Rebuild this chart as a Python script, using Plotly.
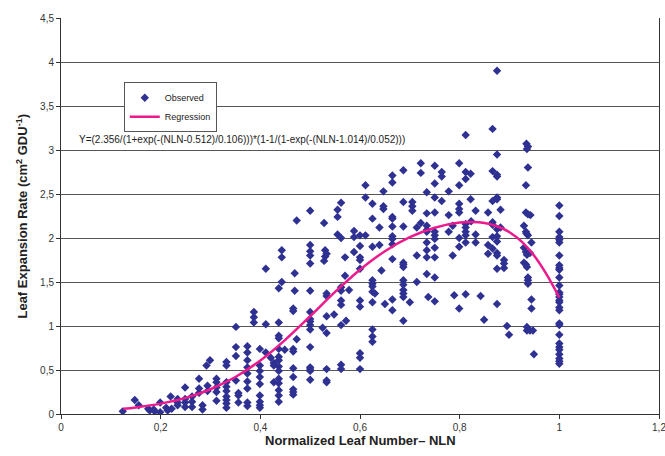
import plotly.graph_objects as go

# ---- Observed points (NLN, leaf expansion rate) ----
obs_nln = [
    0.124, 0.148, 0.156, 0.175, 0.178, 0.186, 0.188, 0.199, 0.199, 0.211,
    0.214, 0.220, 0.222, 0.234, 0.234, 0.234, 0.249, 0.249, 0.249, 0.249,
    0.263, 0.263, 0.263, 0.277, 0.277, 0.277, 0.284, 0.284, 0.292, 0.299,
    0.294, 0.294,
    0.312, 0.312, 0.312, 0.312, 0.312,
    0.332, 0.332, 0.332, 0.332, 0.332, 0.332, 0.332, 0.332, 0.332,
    0.351, 0.351, 0.351, 0.351,
    0.356, 0.356, 0.356,
    0.374, 0.374, 0.374, 0.374, 0.374, 0.374, 0.374, 0.374, 0.374,
    0.387, 0.387, 0.387,
    0.399, 0.399, 0.399, 0.399, 0.399, 0.399, 0.399, 0.399, 0.399,
    0.411, 0.411, 0.411,
    0.421,
    0.427, 0.427, 0.427,
    0.437, 0.437, 0.437, 0.437, 0.437, 0.437, 0.437, 0.437, 0.437, 0.437,
    0.437, 0.437, 0.437, 0.437,
    0.443, 0.443, 0.443,
    0.449,
    0.466, 0.466, 0.466, 0.466, 0.466, 0.466, 0.466, 0.466, 0.466,
    0.469, 0.469,
    0.473, 0.473,
    0.500, 0.500, 0.500, 0.500, 0.500, 0.500, 0.500, 0.500, 0.500, 0.500,
    0.500, 0.500, 0.500, 0.500, 0.500, 0.500,
    0.528, 0.528,
    0.530, 0.530,
    0.533, 0.533, 0.533, 0.533, 0.533, 0.533, 0.533, 0.533,
    0.525,
    0.548,
    0.555, 0.555, 0.555,
    0.562, 0.562, 0.562, 0.562, 0.562, 0.562, 0.562, 0.562, 0.562,
    0.570, 0.570,
    0.572,
    0.578,
    0.588, 0.588, 0.588,
    0.600, 0.600, 0.600, 0.600, 0.600, 0.600, 0.600, 0.600, 0.600, 0.600,
    0.611, 0.611, 0.611,
    0.625, 0.625, 0.625, 0.625, 0.625, 0.625, 0.625, 0.625, 0.625, 0.625,
    0.625,
    0.630,
    0.639, 0.639,
    0.647, 0.647, 0.647,
    0.643,
    0.650,
    0.665, 0.665, 0.665, 0.665, 0.665, 0.665, 0.665, 0.665, 0.665, 0.665,
    0.665,
    0.687, 0.687, 0.687, 0.687, 0.687, 0.687, 0.687, 0.687, 0.687, 0.687,
    0.687, 0.687,
    0.700,
    0.705, 0.705, 0.705,
    0.714, 0.714, 0.714,
    0.722, 0.722, 0.722,
    0.734, 0.734, 0.734, 0.734, 0.734, 0.734, 0.734, 0.734, 0.734,
    0.737,
    0.750, 0.750, 0.750, 0.750, 0.750, 0.750, 0.750, 0.750, 0.750, 0.750,
    0.750,
    0.764, 0.764, 0.764,
    0.778, 0.778, 0.778,
    0.786, 0.786,
    0.789,
    0.799, 0.799, 0.799, 0.799, 0.799, 0.799, 0.799, 0.799,
    0.812, 0.812, 0.812, 0.812, 0.812, 0.812, 0.812, 0.812, 0.812,
    0.822, 0.822,
    0.823,
    0.832, 0.832, 0.832,
    0.842,
    0.849,
    0.857, 0.857, 0.857,
    0.866, 0.866, 0.866, 0.866, 0.866, 0.866, 0.866,
    0.875, 0.875, 0.875, 0.875, 0.875, 0.875, 0.875, 0.875, 0.875, 0.875,
    0.875, 0.875, 0.875,
    0.882, 0.882,
    0.889, 0.889, 0.889,
    0.895,
    0.899,
    0.929, 0.929, 0.929,
    0.933, 0.933, 0.933, 0.933, 0.933,
    0.934, 0.934,
    0.935, 0.935, 0.935, 0.935, 0.935,
    0.937, 0.937, 0.937, 0.937, 0.937, 0.937, 0.937,
    0.941, 0.941,
    0.942,
    0.944, 0.944, 0.944,
    0.947,
    0.949,
    1.0, 1.0, 1.0, 1.0, 1.0, 1.0, 1.0, 1.0, 1.0, 1.0,
    1.0, 1.0, 1.0, 1.0, 1.0, 1.0, 1.0, 1.0, 1.0, 1.0,
    1.0, 1.0, 1.0, 1.0, 1.0, 1.0, 1.0, 1.0, 1.0,
]

obs_rate = [
    0.03, 0.16, 0.10, 0.06, 0.04, 0.05, 0.03, 0.13, 0.02, 0.07,
    0.04, 0.20, 0.06, 0.17, 0.13, 0.10, 0.30, 0.17, 0.13, 0.08,
    0.20, 0.14, 0.08, 0.40, 0.29, 0.24, 0.10, 0.05, 0.55, 0.61,
    0.32, 0.26,
    0.40, 0.36, 0.30, 0.25, 0.15,
    0.59, 0.55, 0.36, 0.31, 0.26, 0.20, 0.16, 0.12, 0.07,
    0.99, 0.76, 0.66, 0.38,
    0.24, 0.21, 0.13,
    0.77, 0.70, 0.61, 0.53, 0.46, 0.37, 0.29, 0.13, 0.09,
    1.16, 1.10, 1.04,
    0.74, 0.55, 0.49, 0.42, 0.34, 0.21, 0.14, 0.10, 0.07,
    1.65, 1.02, 0.70,
    0.64,
    0.58, 0.55, 0.36,
    1.43, 1.04, 0.89, 0.86, 0.74, 0.65, 0.61, 0.54, 0.49, 0.40,
    0.35, 0.27, 0.21, 0.14,
    1.86, 1.78, 1.50,
    0.73,
    1.20, 1.17, 0.74, 0.71, 0.52, 0.42, 0.28, 0.25, 0.22,
    1.60, 1.40,
    2.20, 0.85,
    2.31, 1.92, 1.85, 1.80, 1.71, 1.40, 1.16, 1.08, 1.05, 1.01,
    0.96, 0.76, 0.53, 0.51, 0.49, 0.39,
    2.17, 1.74,
    1.86, 1.79,
    1.82, 1.37, 1.34, 1.11, 0.92, 0.51, 0.38, 0.36,
    0.98,
    1.13,
    2.32, 2.24, 2.04,
    2.40, 2.00, 1.44, 1.40, 1.29, 1.24, 1.01, 0.56, 0.51,
    1.78, 1.57,
    1.06,
    1.41,
    2.08, 2.01, 1.84,
    2.03, 1.91, 1.78, 1.75, 1.65, 1.29, 1.22, 0.69, 0.64, 0.51,
    2.60, 2.46, 2.03,
    2.39, 2.22, 1.90, 1.52, 1.48, 1.45, 1.39, 1.27, 0.96, 0.88,
    0.82,
    1.37,
    2.12, 1.92,
    2.53, 2.36, 2.33,
    1.63,
    1.25,
    2.71, 2.63, 2.24, 2.22, 2.13, 2.02, 1.99, 1.93, 1.76, 1.30,
    1.18,
    2.77, 2.41, 2.13, 1.72, 1.70, 1.67, 1.52, 1.47, 1.41, 1.37,
    1.33, 1.06,
    1.27,
    2.41, 2.36, 2.31,
    2.12, 1.80, 1.50,
    2.85, 2.74, 2.17,
    2.52, 2.28, 2.14, 2.09, 2.07, 1.95, 1.86, 1.78, 1.59,
    1.33,
    2.82, 2.62, 2.46, 2.29, 2.07, 2.03, 1.99, 1.89, 1.78, 1.55,
    1.28,
    2.75, 2.70, 2.42,
    2.53, 2.26, 2.07,
    2.14, 1.80,
    1.35,
    2.85, 2.60, 2.39, 2.33, 2.29, 2.00, 1.90, 1.20,
    3.17, 2.75, 2.67, 2.16, 2.12, 2.07, 2.03, 1.95, 1.36,
    2.73, 2.44,
    2.19,
    2.31, 2.04, 1.95,
    1.34,
    1.07,
    2.29, 1.92, 1.82,
    3.24, 2.76, 2.42, 2.18, 2.15, 2.01, 1.88,
    3.90, 2.95, 2.72, 2.70, 2.46, 2.44, 2.10, 2.02, 1.96, 1.83,
    1.80, 1.65, 1.25,
    2.32, 2.12,
    1.75, 1.71, 1.66,
    1.00,
    0.90,
    2.14, 1.89, 1.72,
    2.60, 2.29, 2.07, 1.84, 1.70,
    3.07, 2.05,
    3.01, 1.81, 1.67, 0.99, 0.95,
    3.04, 2.80, 2.27, 2.03, 1.55, 1.52, 1.48,
    1.83, 0.95,
    2.26,
    1.95, 1.30, 1.20,
    0.95,
    0.68,
    2.37, 2.25, 2.07, 2.01, 1.98, 1.95, 1.80, 1.69, 1.66, 1.64,
    1.55, 1.46, 1.38, 1.36, 1.33, 1.29, 1.27, 1.21, 1.18, 1.03,
    1.01, 0.90, 0.80, 0.76, 0.73, 0.68, 0.63, 0.60, 0.57,
]

# ---- Regression curve ----
reg_nln = [0.125, 0.15, 0.2, 0.25, 0.3, 0.35, 0.4, 0.45, 0.5, 0.55, 0.6,
           0.65, 0.7, 0.75, 0.8, 0.825, 0.85, 0.875, 0.9, 0.925, 0.95,
           0.975, 1.0]
reg_rate = [0.06, 0.075, 0.118, 0.183, 0.281, 0.420, 0.608, 0.843, 1.111,
            1.387, 1.640, 1.850, 2.009, 2.117, 2.175, 2.181, 2.170, 2.134,
            2.066, 1.956, 1.795, 1.580, 1.322]

# ---- Ticks ----
x_tick_vals = [0, 0.2, 0.4, 0.6, 0.8, 1.0, 1.2]
x_tick_text = ["0", "0,2", "0,4", "0,6", "0,8", "1", "1,2"]
y_tick_vals = [0, 0.5, 1, 1.5, 2, 2.5, 3, 3.5, 4, 4.5]
y_tick_text = ["0", "0,5", "1", "1,5", "2", "2,5", "3", "3,5", "4", "4,5"]

equation = "Y=(2.356/(1+exp(-(NLN-0.512)/0.106)))*(1-1/(1-exp(-(NLN-1.014)/0.052)))"

FONT = "Liberation Sans, Arial, sans-serif"

fig = go.Figure()
fig.add_trace(go.Scatter(
    x=obs_nln, y=obs_rate, mode="markers", name="Observed",
    marker=dict(symbol="diamond", size=6.5, color="#2E3192", line=dict(width=0)),
))
fig.add_trace(go.Scatter(
    x=reg_nln, y=reg_rate, mode="lines", name="Regression",
    line=dict(color="#EC1A8C", width=2.5, shape="spline"),
))

fig.update_layout(
    width=665, height=456,
    margin=dict(l=61, r=6, t=18, b=42, autoexpand=False),
    paper_bgcolor="white", plot_bgcolor="white",
    font=dict(family=FONT, size=10, color="#333333"),
    showlegend=True,
    legend=dict(
        x=0.105, y=0.838, xanchor="left", yanchor="top",
        bgcolor="white", bordercolor="#555555", borderwidth=1,
        font=dict(family=FONT, size=9, color="#222222"),
        tracegroupgap=0, itemwidth=30,
    ),
    xaxis=dict(
        range=[0, 1.2], tickmode="array", tickvals=x_tick_vals, ticktext=x_tick_text,
        showgrid=False, zeroline=False, showline=True, linecolor="#333333", linewidth=1,
        ticks="outside", ticklen=4, tickcolor="#333333", ticklabeloverflow="allow",
        automargin=False,
        tickfont=dict(family=FONT, size=10, color="#333333"),
    ),
    yaxis=dict(
        range=[0, 4.5], tickmode="array", tickvals=y_tick_vals, ticktext=y_tick_text,
        showgrid=True, gridcolor="#555555", gridwidth=1, zeroline=False,
        showline=True, linecolor="#333333", linewidth=1, mirror=True,
        ticks="outside", ticklen=4, tickcolor="#333333", automargin=False,
        tickfont=dict(family=FONT, size=10, color="#333333"),
    ),
    annotations=[
        dict(text=equation, xref="paper", yref="paper", x=0.0268, y=0.694,
             xanchor="left", yanchor="middle", showarrow=False,
             font=dict(family=FONT, size=10, color="#222222")),
        dict(text="<b>Normalized Leaf Number– NLN</b>", xref="paper", yref="paper",
             x=0.5, y=-0.066, xanchor="center", yanchor="middle", showarrow=False,
             font=dict(family=FONT, size=13, color="#222222")),
        dict(text="<b>Leaf Expansion Rate (cm<sup>2</sup> GDU<sup>-1</sup>)</b>",
             xref="paper", yref="paper", x=-0.066, y=0.5, textangle=-90,
             xanchor="center", yanchor="middle", showarrow=False,
             font=dict(family=FONT, size=13, color="#222222")),
    ],
)

fig.write_html("out.html")
